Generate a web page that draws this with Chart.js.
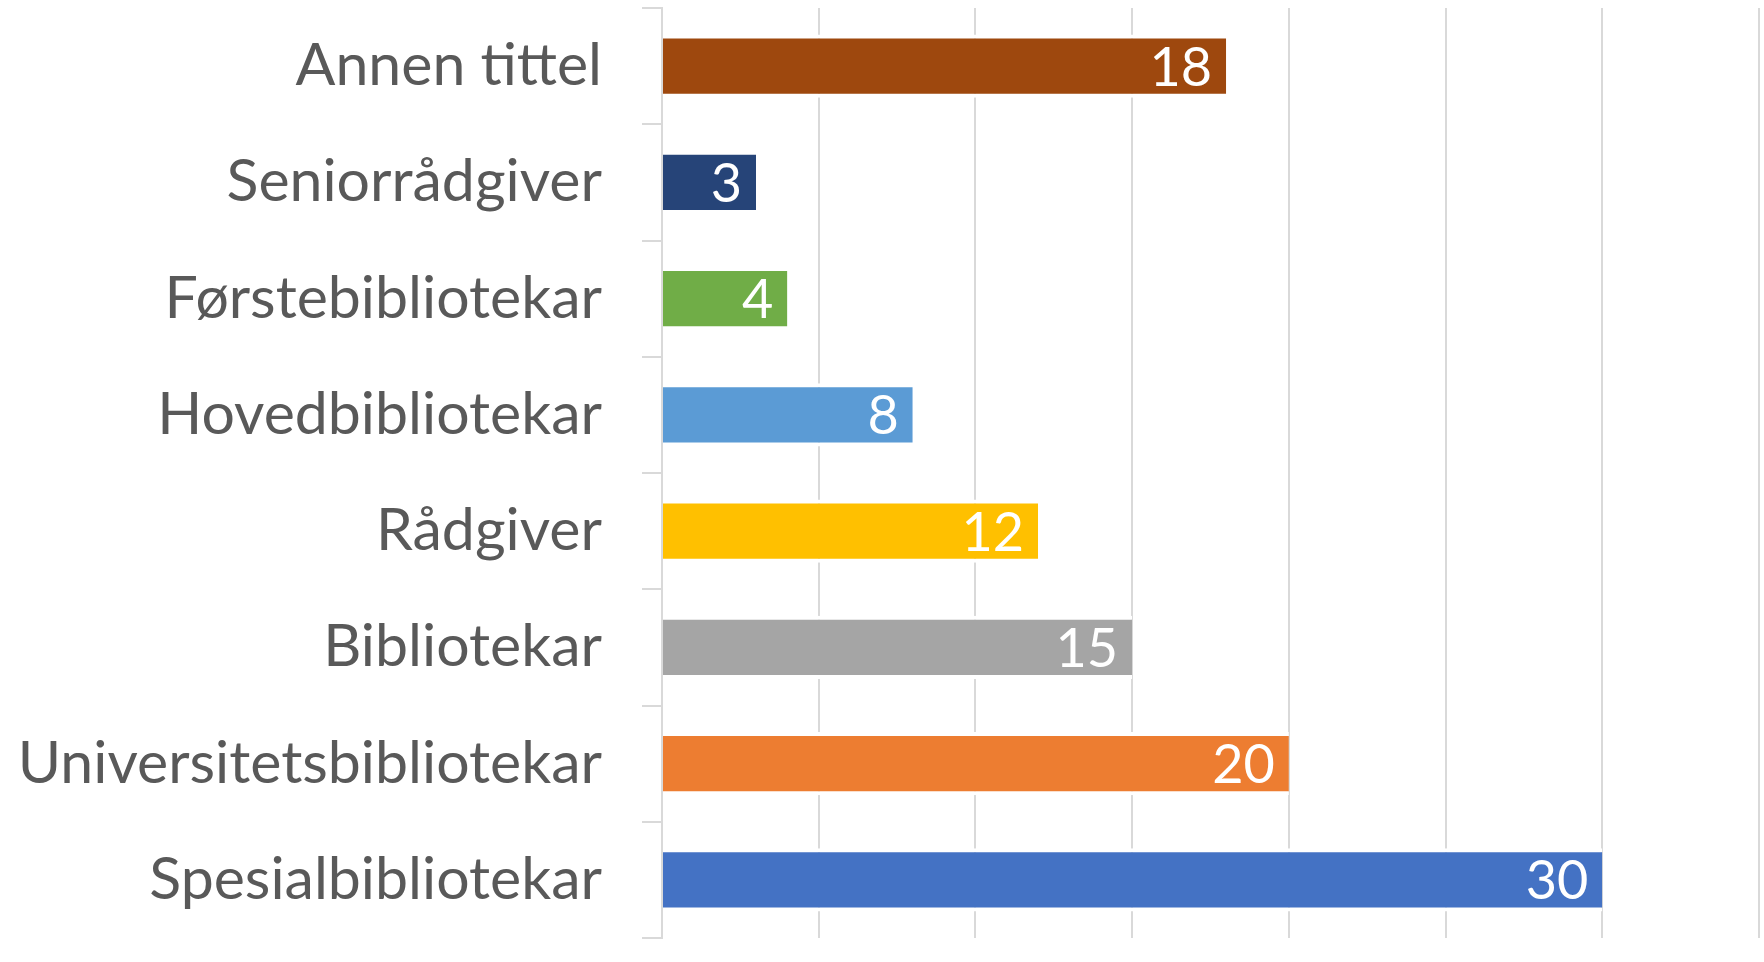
<!DOCTYPE html>
<html>
<head>
<meta charset="utf-8">
<script src="https://cdn.jsdelivr.net/npm/chart.js@4.4.1/dist/chart.umd.min.js"></script>
<style>
  html, body { margin: 0; padding: 0; background: #ffffff; }
  #wrap { width: 1764px; height: 962px; position: relative; }
</style>
</head>
<body>
<div id="wrap"><canvas id="c" width="1764" height="962"></canvas></div>
<script>
const categories = ["Annen tittel", "Seniorrådgiver", "Førstebibliotekar", "Hovedbibliotekar", "Rådgiver", "Bibliotekar", "Universitetsbibliotekar", "Spesialbibliotekar"];
const values = [18, 3, 4, 8, 12, 15, 20, 30];
const barColors = ["#9E480E", "#264478", "#70AD47", "#5B9BD5", "#FFC000", "#A5A5A5", "#ED7D31", "#4472C4"];
const xTicks = [0, 5, 10, 15, 20, 25, 30, 35];

const FONT = "Lato, 'Open Sans', sans-serif";

const valueLabels = {
  id: 'valueLabels',
  afterDatasetsDraw(chart) {
    const ctx = chart.ctx;
    const meta = chart.getDatasetMeta(0);
    ctx.save();
    ctx.fillStyle = '#ffffff';
    ctx.font = '54px ' + FONT;
    ctx.textAlign = 'right';
    ctx.textBaseline = 'middle';
    meta.data.forEach((bar, i) => {
      ctx.fillText(String(values[i]), bar.x - 14, bar.y + 2);
    });
    ctx.restore();
  }
};

new Chart(document.getElementById('c'), {
  type: 'bar',
  data: {
    labels: categories,
    datasets: [{
      data: values,
      backgroundColor: barColors,
      borderColor: '#ffffff',
      borderWidth: { top: 4, bottom: 4, left: 0, right: 0 },
      borderSkipped: false,
      barPercentage: 0.545,
      categoryPercentage: 1.0
    }]
  },
  options: {
    indexAxis: 'y',
    responsive: false,
    animation: false,
    devicePixelRatio: 1,
    layout: { padding: { top: 8, bottom: 24, right: 5, left: 0 } },
    plugins: { legend: { display: false }, tooltip: { enabled: false } },
    scales: {
      x: {
        min: 0,
        max: 35,
        afterBuildTicks(scale) { scale.ticks = xTicks.map(v => ({ value: v })); },
        afterFit(scale) { scale.height = 0; scale.paddingLeft = 0; scale.paddingRight = 0; },
        ticks: { display: false },
        border: { display: false },
        grid: { color: '#d9d9d9', lineWidth: 2, drawTicks: false }
      },
      y: {
        afterFit(scale) { scale.width = 662; scale.paddingTop = 0; scale.paddingBottom = 0; },
        border: { display: true, color: '#d9d9d9', width: 2 },
        grid: { drawOnChartArea: false, drawTicks: true, tickLength: 20, color: '#d9d9d9', lineWidth: 2, offset: true },
        ticks: { color: '#595959', font: { family: FONT, size: 59 }, padding: 40 }
      }
    }
  },
  plugins: [valueLabels]
});
</script>
</body>
</html>
